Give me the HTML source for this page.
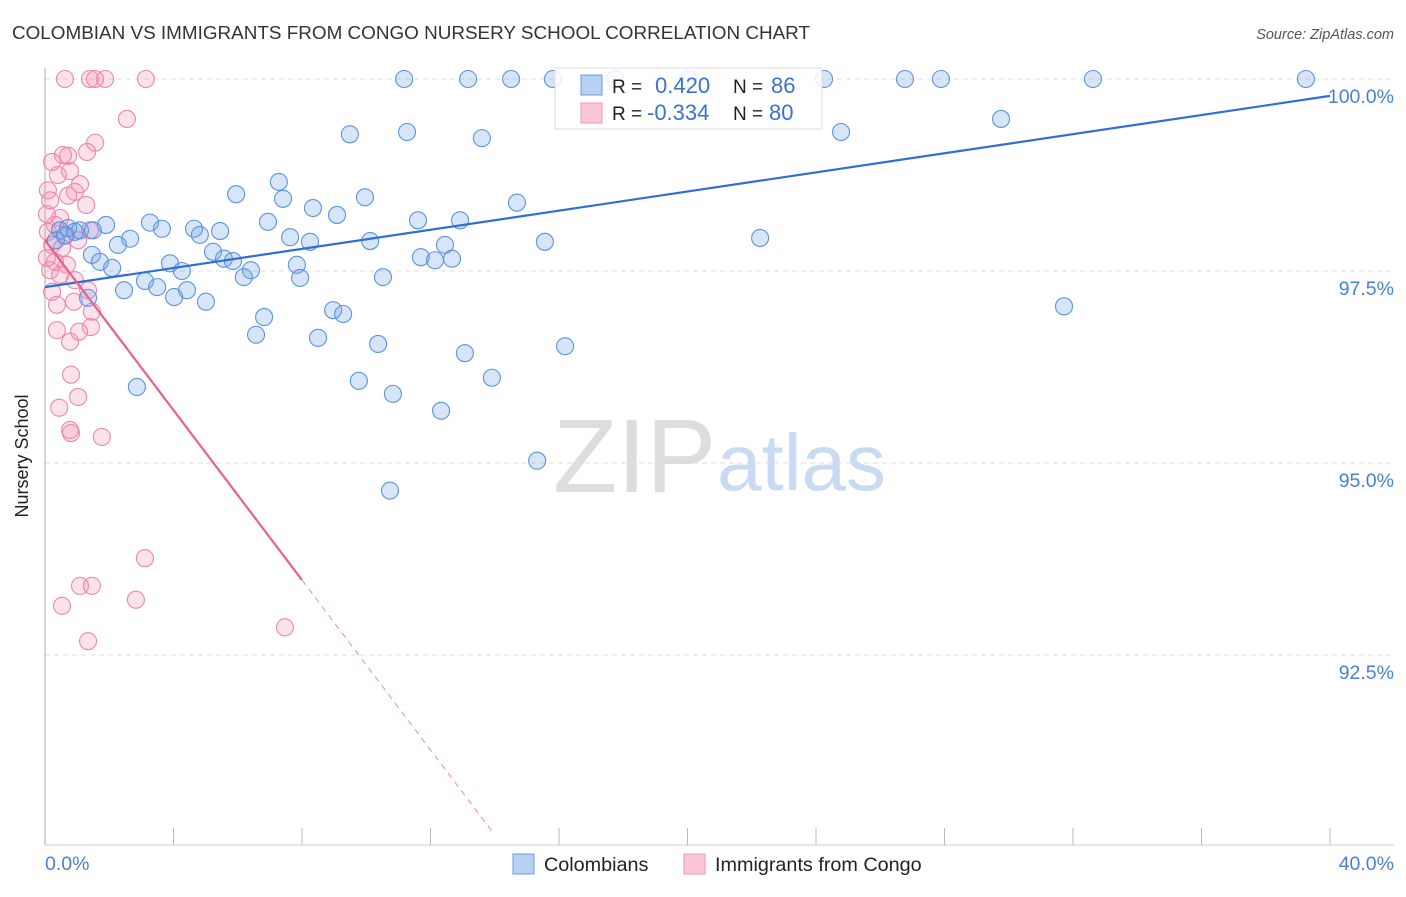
<!DOCTYPE html>
<html><head><meta charset="utf-8"><style>
body{margin:0;background:#fff;font-family:"Liberation Sans",sans-serif;}
svg text{font-family:"Liberation Sans",sans-serif;}
</style></head><body>
<svg id="chart" width="1406" height="892" viewBox="0 0 1406 892" xmlns="http://www.w3.org/2000/svg">
<text x="12" y="39" font-size="18" fill="#333" textLength="798" lengthAdjust="spacingAndGlyphs">COLOMBIAN VS IMMIGRANTS FROM CONGO NURSERY SCHOOL CORRELATION CHART</text>
<text x="1394" y="39" font-size="14.5" fill="#555" font-style="italic" text-anchor="end">Source: ZipAtlas.com</text>
<g id="grid"></g>
<line x1="45" y1="68" x2="45" y2="845" stroke="#bbb" stroke-width="1.2"/>
<line x1="45" y1="845" x2="1394" y2="845" stroke="#ccc" stroke-width="1"/>
<g id="xticks"></g>
<text x="28" y="456" font-size="18" fill="#222" text-anchor="middle" transform="rotate(-90 28 456)">Nursery School</text>
<text x="45" y="870" font-size="19.5" fill="#4a7fd6">0.0%</text>
<text x="1394" y="870" font-size="19.5" fill="#4a7fd6" text-anchor="end">40.0%</text>
<g>
<text x="553" y="492" font-size="105" fill="#ddd" font-family="Liberation Serif, serif">ZIP</text>
<text x="717" y="490" font-size="80" fill="#c9daf3">atlas</text>
</g>
<g id="pts"></g>
<g id="trends"></g>
<g>
<rect x="555" y="68" width="267" height="61" fill="#fff" fill-opacity="0.85" stroke="#ddd"/>
<rect x="581" y="75" width="21" height="20" fill="#b7d1f3" stroke="#6b9de0"/>
<rect x="581" y="103" width="21" height="20" fill="#fbc7d7" stroke="#ef94b2"/>
<text x="612" y="93" font-size="19" fill="#222">R =</text>
<text x="655" y="93" font-size="22" fill="#3a72d0">0.420</text>
<text x="733" y="93" font-size="19" fill="#222">N =</text>
<text x="771" y="93" font-size="22" fill="#3a72d0">86</text>
<text x="612" y="120" font-size="19" fill="#222">R =</text>
<text x="647" y="120" font-size="22" fill="#3a72d0">-0.334</text>
<text x="733" y="120" font-size="19" fill="#222">N =</text>
<text x="769" y="120" font-size="22" fill="#3a72d0">80</text>
</g>
<g>
<rect x="513" y="854" width="21" height="20" fill="#b7d1f3" stroke="#6b9de0"/>
<text x="544" y="871" font-size="19.8" fill="#222">Colombians</text>
<rect x="684" y="854" width="21" height="20" fill="#fbc7d7" stroke="#ef94b2"/>
<text x="715" y="871" font-size="19.8" fill="#222">Immigrants from Congo</text>
</g>
</svg>
<script>
const yTicks=[100,97.5,95,92.5];
const yTickLabels=["100.0%","97.5%","95.0%","92.5%"];
const blueX=[11.18,13.17,14.51,15.81,17.74,20.02,24.25,26.77,27.89,32.62,39.25,9.49,11.27,13.60,24.78,29.76,5.95,7.28,7.41,8.34,9.09,9.96,14.69,1.90,3.27,3.64,4.64,4.82,5.45,6.94,7.63,8.25,10.12,11.61,12.92,12.45,15.56,22.26,2.65,2.27,1.46,1.71,2.09,5.23,5.57,5.85,6.41,6.19,7.84,7.94,10.52,11.70,12.14,12.67,3.89,4.26,3.11,3.49,4.42,4.02,2.46,1.34,5.01,6.57,6.82,8.50,8.97,9.28,10.37,13.07,16.19,9.77,10.83,13.91,12.33,2.86,15.32,10.74,31.72,0.47,0.72,0.93,1.09,0.34,0.62,1.49];
const blueY=[100,100,100,100,100,100,100,100,100,100,100,99.28,99.31,99.23,99.31,99.48,98.50,98.66,98.44,98.32,98.23,98.46,98.39,98.10,98.13,98.05,98.05,97.97,98.02,98.14,97.94,97.88,97.89,98.16,98.16,97.84,97.88,97.93,97.92,97.84,97.71,97.62,97.54,97.75,97.66,97.63,97.51,97.42,97.58,97.41,97.42,97.68,97.64,97.66,97.60,97.50,97.37,97.29,97.25,97.16,97.25,97.15,97.10,96.67,96.90,96.63,96.99,96.94,96.55,96.43,96.52,96.07,95.90,96.11,95.68,95.99,95.03,94.64,97.04,98.03,98.06,98.01,98.03,97.90,97.96,98.03];
const pinkX=[0.62,1.40,1.56,1.87,3.14,2.55,1.56,1.31,0.56,0.72,0.22,0.40,0.78,1.09,0.09,0.93,0.72,1.28,0.16,0.06,0.47,0.31,0.09,0.65,1.03,1.40,0.22,0.53,0.06,0.31,0.68,0.16,0.47,0.93,1.34,0.22,0.90,0.37,1.46,1.43,1.06,0.37,0.78,0.81,1.03,0.44,0.81,0.78,1.77,3.11,1.09,1.46,2.83,0.53,1.34,7.47];
const pinkY=[100,100,100,100,100,99.48,99.17,99.05,99.01,99.00,98.92,98.75,98.80,98.63,98.55,98.53,98.48,98.36,98.42,98.24,98.19,98.10,98.01,97.97,97.90,98.03,97.84,97.80,97.67,97.62,97.58,97.51,97.45,97.38,97.25,97.23,97.10,97.06,96.97,96.77,96.71,96.73,96.58,96.15,95.86,95.72,95.39,95.43,95.34,93.76,93.40,93.40,93.22,93.14,92.68,92.86];
const blueTrend=[97.29,99.78];
const pinkTrend=[97.9,-0.553];
const pinkSolidEnd=8.0, pinkDashEnd=13.9;

const NS="http://www.w3.org/2000/svg";
const sx=v=>45+v/40*1285;
const sy=v=>79+(100-v)*76.8;
function mk(t,a,p){const e=document.createElementNS(NS,t);for(const k in a)e.setAttribute(k,a[k]);p.appendChild(e);return e;}
const grid=document.getElementById('grid');
yTicks.forEach((t,i)=>{
  const l=mk('line',{x1:45,x2:1394,y1:sy(t),y2:sy(t),stroke:'#ddd','stroke-dasharray':'5,4'},grid);
  
  
  const tx=mk('text',{x:1394,y:sy(t)+24,'font-size':19.5,fill:'#4a7fd6','text-anchor':'end'},grid);
  tx.textContent=yTickLabels[i];
  
  
});
const xt=document.getElementById('xticks');
for(let i=0;i<=10;i++){
  const l=mk('line',{x1:sx(i*4),x2:sx(i*4),y1:828,y2:845,stroke:'#bbb'},xt);
  
  
}
const pts=document.getElementById('pts');
pinkX.forEach((x,i)=>{
  const c=mk('circle',{cx:sx(x),cy:sy(pinkY[i]),r:8.5,fill:'rgba(245,140,175,0.25)',stroke:'#ec88aa','stroke-width':1.1},pts);
  
  
});
blueX.forEach((x,i)=>{
  const c=mk('circle',{cx:sx(x),cy:sy(blueY[i]),r:8.5,fill:'rgba(110,160,230,0.28)',stroke:'#5b93de','stroke-width':1.1},pts);
  
  
});
const tr=document.getElementById('trends');
const bl=mk('line',{x1:sx(0),y1:sy(blueTrend[0]),x2:sx(40),y2:sy(blueTrend[1]),stroke:'#2f6fd4','stroke-width':2.2},tr);


const pf=x=>pinkTrend[0]+pinkTrend[1]*x;
const pl=mk('line',{x1:sx(0),y1:sy(pf(0)),x2:sx(pinkSolidEnd),y2:sy(pf(pinkSolidEnd)),stroke:'#e8608f','stroke-width':2.2},tr);


const pd=mk('line',{x1:sx(pinkSolidEnd),y1:sy(pf(pinkSolidEnd)),x2:sx(pinkDashEnd),y2:sy(pf(pinkDashEnd)),stroke:'#ec8aab','stroke-width':1,'stroke-dasharray':'6,5'},tr);


</script>
</body></html>
